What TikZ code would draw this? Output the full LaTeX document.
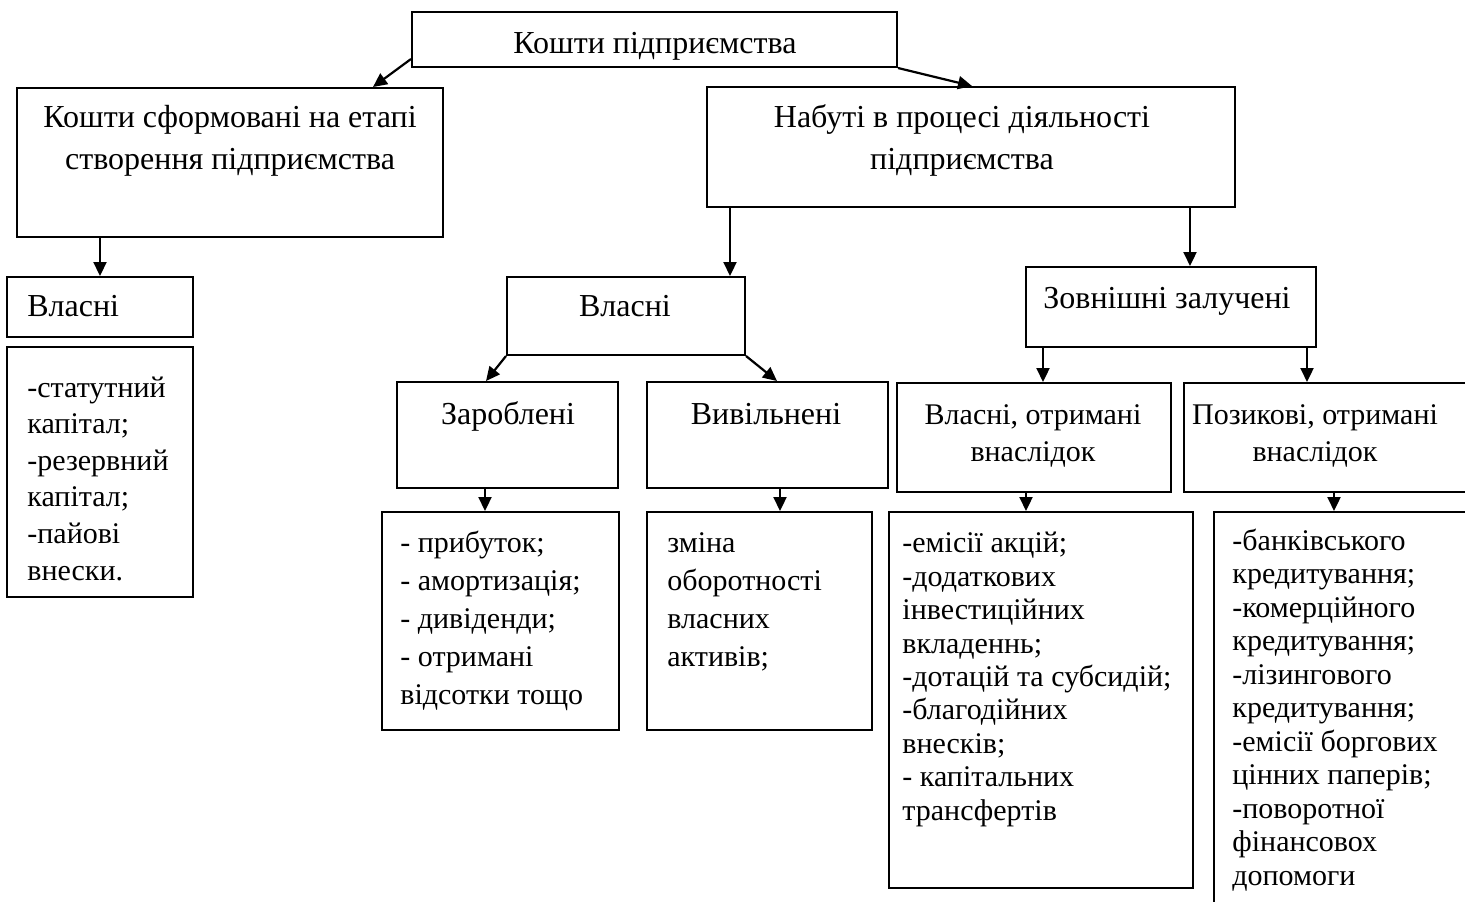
\documentclass[tikz,border=0pt]{standalone}
\usepackage{fontspec}
\setmainfont{Liberation Serif}
\usetikzlibrary{arrows.meta,fit}

\tikzset{
  box/.style={draw, line width=1pt, inner sep=0pt},
  head/.style={inner sep=0pt, anchor=base, align=center, font=\fontsize{16}{21}\selectfont},
  item/.style={inner sep=0pt, anchor=base west, align=left},
  arr/.style={-{Triangle[length=7pt,width=6.5pt]}, line width=1.1pt},
}

\begin{document}
\begin{tikzpicture}[x=0.5pt,y=-0.5pt]
  \useasboundingbox (0,0) rectangle (1465,901);

  % boxes
  \node[box, fit={(412,12) (897,67)}] (top) {};
  \node[box, fit={(17,88) (443,237)}] (form) {};
  \node[box, fit={(707,87) (1235,207)}] (nab) {};
  \node[box, fit={(7,277) (193,337)}] (vl1) {};
  \node[box, fit={(7,347) (193,597)}] (lst1) {};
  \node[box, fit={(507,277) (745,355)}] (vl2) {};
  \node[box, fit={(1026,267) (1316,347)}] (zov) {};
  \node[box, fit={(397,382) (618,488)}] (zar) {};
  \node[box, fit={(647,382) (888,488)}] (vyv) {};
  \node[box, fit={(897,383) (1171,492)}] (vl3) {};
  \node[box, fit={(1184,383) (1480,492)}] (poz) {};
  \node[box, fit={(382,512) (619,730)}] (lz) {};
  \node[box, fit={(647,512) (872,730)}] (lv) {};
  \node[box, fit={(889,512) (1193,888)}] (lvl) {};
  \node[box, fit={(1214,512) (1480,915)}] (lpoz) {};

  % headings (base = last line)
  \node[head] (ttop) at (655,53) {Кошти підприємства};
  \node[head] (tform) at (230,169) {Кошти сформовані на етапі\\створення підприємства};
  \node[head] (tnab) at (962,169) {Набуті в процесі діяльності\\підприємства};
  \node[head, anchor=base west] (tvl1) at (27,316) {Власні};
  \node[head] (tvl2) at (625,316) {Власні};
  \node[head] (tzov) at (1167,308) {Зовнішні залучені};
  \node[head] (tzar) at (508,424) {Зароблені};
  \node[head] (tvyv) at (766,424) {Вивільнені};
  \node[head, font=\fontsize{15}{18.5}\selectfont] (tvl3) at (1033,461) {Власні, отримані\\внаслідок};
  \node[head, font=\fontsize{15}{18.5}\selectfont] (tpoz) at (1315,461) {Позикові, отримані\\внаслідок};

  % lists (base = last line)
  \node[item, font=\fontsize{15}{18.3}\selectfont] (ilst1) at (27,580)
    {-статутний\\капітал;\\-резервний\\капітал;\\-пайові\\внески.};
  \node[item, font=\fontsize{15}{19}\selectfont] (ilz) at (400,704)
    {- прибуток;\\- амортизація;\\- дивіденди;\\- отримані\\відсотки тощо};
  \node[item, font=\fontsize{15}{19}\selectfont] (ilv) at (667,666)
    {зміна\\оборотності\\власних\\активів;};
  \node[item, font=\fontsize{15}{16.7}\selectfont] (ilvl) at (902,820)
    {-емісії акцій;\\-додаткових\\інвестиційних\\вкладеннь;\\-дотацій та субсидій;\\-благодійних\\внесків;\\- капітальних\\трансфертів};
  \node[item, font=\fontsize{15}{16.75}\selectfont] (ilpoz) at (1232,885)
    {-банківського\\кредитування;\\-комерційного\\кредитування;\\-лізингового\\кредитування;\\-емісії боргових\\цінних паперів;\\-поворотної\\фінансовох\\допомоги};

  % arrow columns
  \coordinate (c1) at (730,0);
  \coordinate (c2) at (1190,0);
  \coordinate (c3) at (485,0);
  \coordinate (c4) at (780,0);
  \coordinate (c5) at (1043,0);
  \coordinate (c6) at (1307,0);
  \coordinate (c7) at (1026,0);
  \coordinate (c8) at (1334,0);

  % arrows
  \draw[arr] ([yshift=4.5pt]top.south west) -- ([xshift=-35.5pt]form.north east);
  \draw[arr] (top.south east) -- ([xshift=133pt]nab.north west);
  \draw[arr] (form.south -| vl1.north) -- (vl1.north);
  \draw[arr] (nab.south -| c1) -- (vl2.north -| c1);
  \draw[arr] (nab.south -| c2) -- (zov.north -| c2);
  \draw[arr] (vl2.south west) -- ([xshift=45pt]zar.north west);
  \draw[arr] (vl2.south east) -- ([xshift=65.5pt]vyv.north west);
  \draw[arr] (zar.south -| c3) -- (lz.north -| c3);
  \draw[arr] (vyv.south -| c4) -- (lv.north -| c4);
  \draw[arr] (zov.south -| c5) -- (vl3.north -| c5);
  \draw[arr] (zov.south -| c6) -- (poz.north -| c6);
  \draw[arr] (vl3.south -| c7) -- (lvl.north -| c7);
  \draw[arr] (poz.south -| c8) -- (lpoz.north -| c8);
\end{tikzpicture}
\end{document}
